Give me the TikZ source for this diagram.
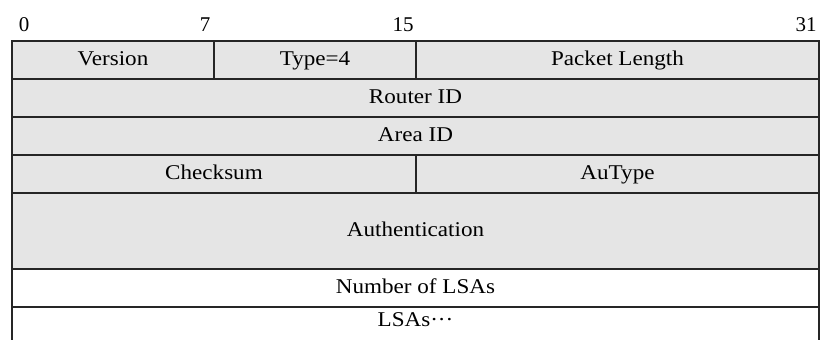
\documentclass[tikz,border=0pt]{standalone}
\usepackage{fontspec}
\setmainfont{Liberation Serif}
\begin{document}
\begin{tikzpicture}[x=1pt,y=-1pt,
  cell/.style={draw=black!85, line width=1.6pt, fill=gray!20, inner sep=0pt,
    outer sep=0pt, anchor=north west, text height=14pt, text depth=4pt,
    font=\fontsize{21}{23}\selectfont},
  plain/.style={cell, fill=white},
  bitnum/.style={inner sep=0pt, text height=14pt, text depth=0pt,
    font=\fontsize{21}{23}\selectfont}]
\useasboundingbox (0,0) rectangle (821,340);
% bit positions
\node[bitnum] (b0)  at (24,24)  {0};
\node[bitnum] (b7)  at (205,24) {7};
\node[bitnum] (b15) at (403,24) {15};
\node[bitnum] (b31) at (806,24) {31};
% header words
\newcommand\wide[1]{\scalebox{1.1}[1]{#1}}
\node[cell, minimum width=202, minimum height=38] (ver) at (12,41)  {\wide{Version}};
\node[cell, minimum width=202, minimum height=38] (typ) at (214,41) {\wide{Type=4}};
\node[cell, minimum width=403, minimum height=38] (len) at (416,41) {\wide{Packet Length}};
\node[cell, minimum width=807, minimum height=38] (rid) at (12,79)  {\wide{Router ID}};
\node[cell, minimum width=807, minimum height=38] (aid) at (12,117) {\wide{Area ID}};
\node[cell, minimum width=404, minimum height=38] (chk) at (12,155) {\wide{Checksum}};
\node[cell, minimum width=403, minimum height=38] (aut) at (416,155) {\wide{AuType}};
\node[cell, minimum width=807, minimum height=76] (auth) at (12,193) {\wide{Authentication}};
\node[plain, minimum width=807, minimum height=38] (nls) at (12,269) {\wide{Number of LSAs}};
% open-ended LSA list
\node[plain, draw=none, fill=none, minimum width=807, minimum height=28] (lsa) at (12,307)
  {\wide{LSAs\textperiodcentered\textperiodcentered\textperiodcentered}};
\coordinate (bl) at (12,340);
\coordinate (br) at (819,340);
\draw[black!85, line width=1.6pt] (nls.south west) -- (bl);
\draw[black!85, line width=1.6pt] (nls.south east) -- (br);
\end{tikzpicture}
\end{document}
